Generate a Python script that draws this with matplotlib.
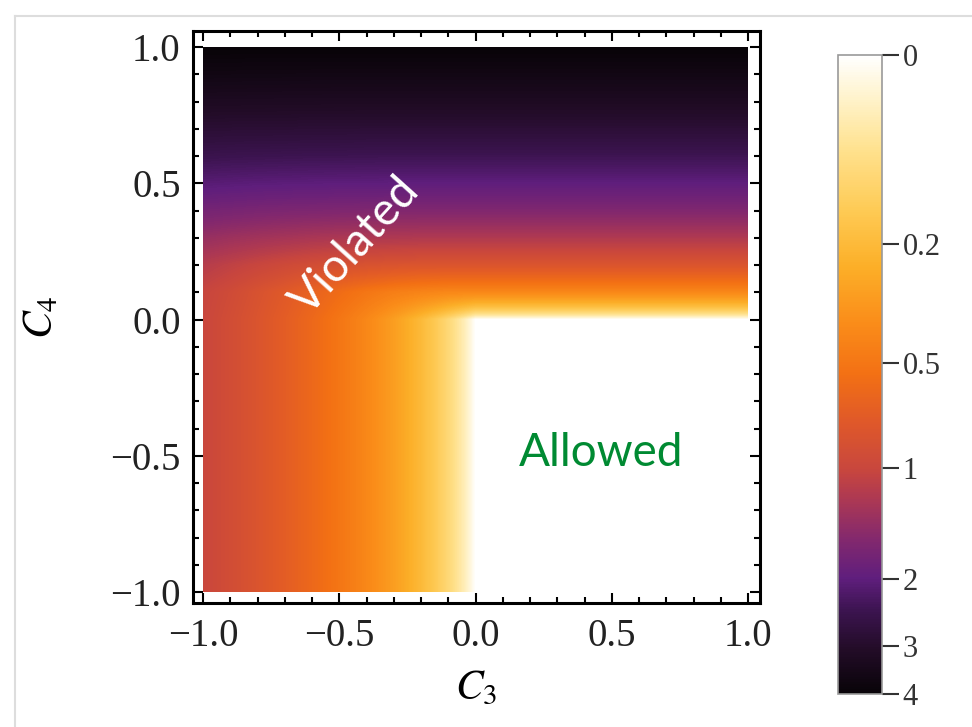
import numpy as np
import matplotlib
matplotlib.use("Agg")
import matplotlib.pyplot as plt
from matplotlib.colors import LinearSegmentedColormap, FuncNorm
from matplotlib.patches import Rectangle
from matplotlib.lines import Line2D

plt.rcParams["mathtext.fontset"] = "stix"

# grid coordinates
c3 = [-1.0, -0.9, -0.8, -0.7, -0.6, -0.5, -0.4, -0.3, -0.2, -0.1, 0.0,
      0.1, 0.2, 0.3, 0.4, 0.5, 0.6, 0.7, 0.8, 0.9, 1.0]
c4 = [-1.0, -0.9, -0.8, -0.7, -0.6, -0.5, -0.4, -0.3, -0.2, -0.1, 0.0,
      0.1, 0.2, 0.3, 0.4, 0.5, 0.6, 0.7, 0.8, 0.9, 1.0]

# value vs C3 for C4 < 0 (C3 = -1.0 .. 0.0)
left_profile = [1.0, 0.9, 0.8, 0.7, 0.6, 0.5, 0.4, 0.3, 0.2, 0.1, 0.0]

# value vs C4 for C3 > 0 (C4 = 0.0 .. 1.0)
top_profile = [0.0, 0.4, 0.8, 1.2, 1.6, 2.0, 2.4, 2.8, 3.2, 3.6, 4.0]

# upper-left quadrant, rows C4 = 0.0 .. 1.0, cols C3 = -1.0 .. 0.0
upper_left = [
    [1.00, 0.90, 0.80, 0.70, 0.60, 0.50, 0.40, 0.30, 0.20, 0.10, 0.00],
    [1.02, 0.93, 0.83, 0.74, 0.65, 0.57, 0.50, 0.45, 0.42, 0.40, 0.40],
    [1.15, 1.08, 1.01, 0.95, 0.90, 0.86, 0.83, 0.81, 0.80, 0.80, 0.80],
    [1.40, 1.35, 1.31, 1.28, 1.25, 1.23, 1.22, 1.21, 1.20, 1.20, 1.20],
    [1.72, 1.69, 1.66, 1.64, 1.63, 1.62, 1.61, 1.60, 1.60, 1.60, 1.60],
    [2.08, 2.06, 2.04, 2.03, 2.02, 2.01, 2.01, 2.00, 2.00, 2.00, 2.00],
    [2.46, 2.44, 2.43, 2.42, 2.41, 2.41, 2.40, 2.40, 2.40, 2.40, 2.40],
    [2.84, 2.83, 2.82, 2.82, 2.81, 2.81, 2.80, 2.80, 2.80, 2.80, 2.80],
    [3.23, 3.22, 3.22, 3.21, 3.21, 3.20, 3.20, 3.20, 3.20, 3.20, 3.20],
    [3.63, 3.62, 3.61, 3.61, 3.60, 3.60, 3.60, 3.60, 3.60, 3.60, 3.60],
    [4.00, 4.00, 4.00, 4.00, 4.00, 4.00, 4.00, 4.00, 4.00, 4.00, 4.00],
]

cbar_ticks = [0, 0.2, 0.5, 1, 2, 3, 4]
cbar_labels = ["0", "0.2", "0.5", "1", "2", "3", "4"]

# assemble the full grid (rows = C4, cols = C3)
Z = np.zeros((len(c4), len(c3)))
Z[:10, :11] = left_profile
Z[10:, :11] = upper_left
Z[11:, 11:] = np.array(top_profile[1:])[:, None]

# sunset-like colormap, white (0) -> black (4)
pos = [0.0, 0.07, 0.15, 0.25, 0.33, 0.42, 0.50, 0.57, 0.65, 0.70, 0.76, 0.82, 0.87, 0.93, 1.0]
cols = ["#ffffff", "#fff2c8", "#ffe18c", "#fec850", "#fcaf28", "#fa8c19", "#f37014",
        "#e15a28", "#c8463e", "#aa3755", "#82286e", "#5f1e7d", "#3c1450", "#230c28", "#080408"]
cmap = LinearSegmentedColormap.from_list("sunset", list(zip(pos, cols)))
norm = FuncNorm((lambda x: np.log1p(10 * np.asarray(x)),
                 lambda y: np.expm1(np.asarray(y)) / 10), vmin=0, vmax=4)

fig = plt.figure(figsize=(9.72, 7.27), dpi=100)
ax = fig.add_axes([193 / 972, 1 - 603 / 727, 567 / 972, 572 / 727])

half = 0.05
im = ax.imshow(Z, origin="lower", cmap=cmap, norm=norm,
               extent=[c3[0] - half, c3[-1] + half, c4[0] - half, c4[-1] + half],
               interpolation="bilinear", interpolation_stage="data", aspect="auto")
im.set_clip_path(Rectangle((-1, -1), 2, 2, transform=ax.transData))

ax.set_xlim(-1.037, 1.044)
ax.set_ylim(-1.04, 1.059)

serif = "Liberation Serif"
ax.set_xticks([-1.0, -0.5, 0.0, 0.5, 1.0])
ax.set_yticks([-1.0, -0.5, 0.0, 0.5, 1.0])
ax.set_xticklabels(["\u22121.0", "\u22120.5", "0.0", "0.5", "1.0"], family=serif,
                   fontsize=28, color="#222222")
ax.set_yticklabels(["\u22121.0", "\u22120.5", "0.0", "0.5", "1.0"], family=serif,
                   fontsize=28, color="#222222")
ax.set_xticks(np.arange(-1.0, 1.01, 0.1), minor=True)
ax.set_yticks(np.arange(-1.0, 1.01, 0.1), minor=True)
ax.tick_params(which="both", direction="in", top=True, right=True, width=1.5, color="black")
ax.tick_params(which="major", length=7)
ax.tick_params(axis="x", which="major", pad=11)
ax.tick_params(axis="y", which="major", pad=9)
ax.tick_params(which="minor", length=4)
for s in ax.spines.values():
    s.set_linewidth(2.2)

ax.set_xlabel("$C_3$", fontsize=30, va="center", ha="center")
ax.set_ylabel("$C_4$", fontsize=30, va="center", ha="center")
ax.xaxis.set_label_coords(0.499, -0.148)
ax.yaxis.set_label_coords(-0.27, 0.5)

ax.text(-0.44, 0.27, "Violated", color="white", fontsize=33, family="Lato",
        rotation=48, ha="center", va="center", rotation_mode="anchor")
ax.text(0.46, -0.49, "Allowed", color="#008a32", fontsize=33, family="Lato",
        ha="center", va="center")

# colorbar
cax = fig.add_axes([838 / 972, 1 - 694 / 727, 44 / 972, 639 / 727])
cb = fig.colorbar(im, cax=cax, ticks=cbar_ticks)
cax.invert_yaxis()
cb.set_ticklabels(cbar_labels)
for lab in cax.get_yticklabels():
    lab.set_family(serif)
    lab.set_fontsize(22)
    lab.set_color("#333333")
cax.tick_params(which="major", direction="out", length=12, width=1.5, color="#333333", pad=3)
cax.minorticks_off()
cb.outline.set_edgecolor("#999999")
cb.outline.set_linewidth(1.2)

# faint screenshot border
fig.add_artist(Line2D([15 / 972, 15 / 972], [0, 1 - 16 / 727], color="#dddddd", lw=1.5))
fig.add_artist(Line2D([15 / 972, 1], [1 - 16 / 727, 1 - 16 / 727], color="#dddddd", lw=1.5))

fig.savefig("out.png", dpi=100)
